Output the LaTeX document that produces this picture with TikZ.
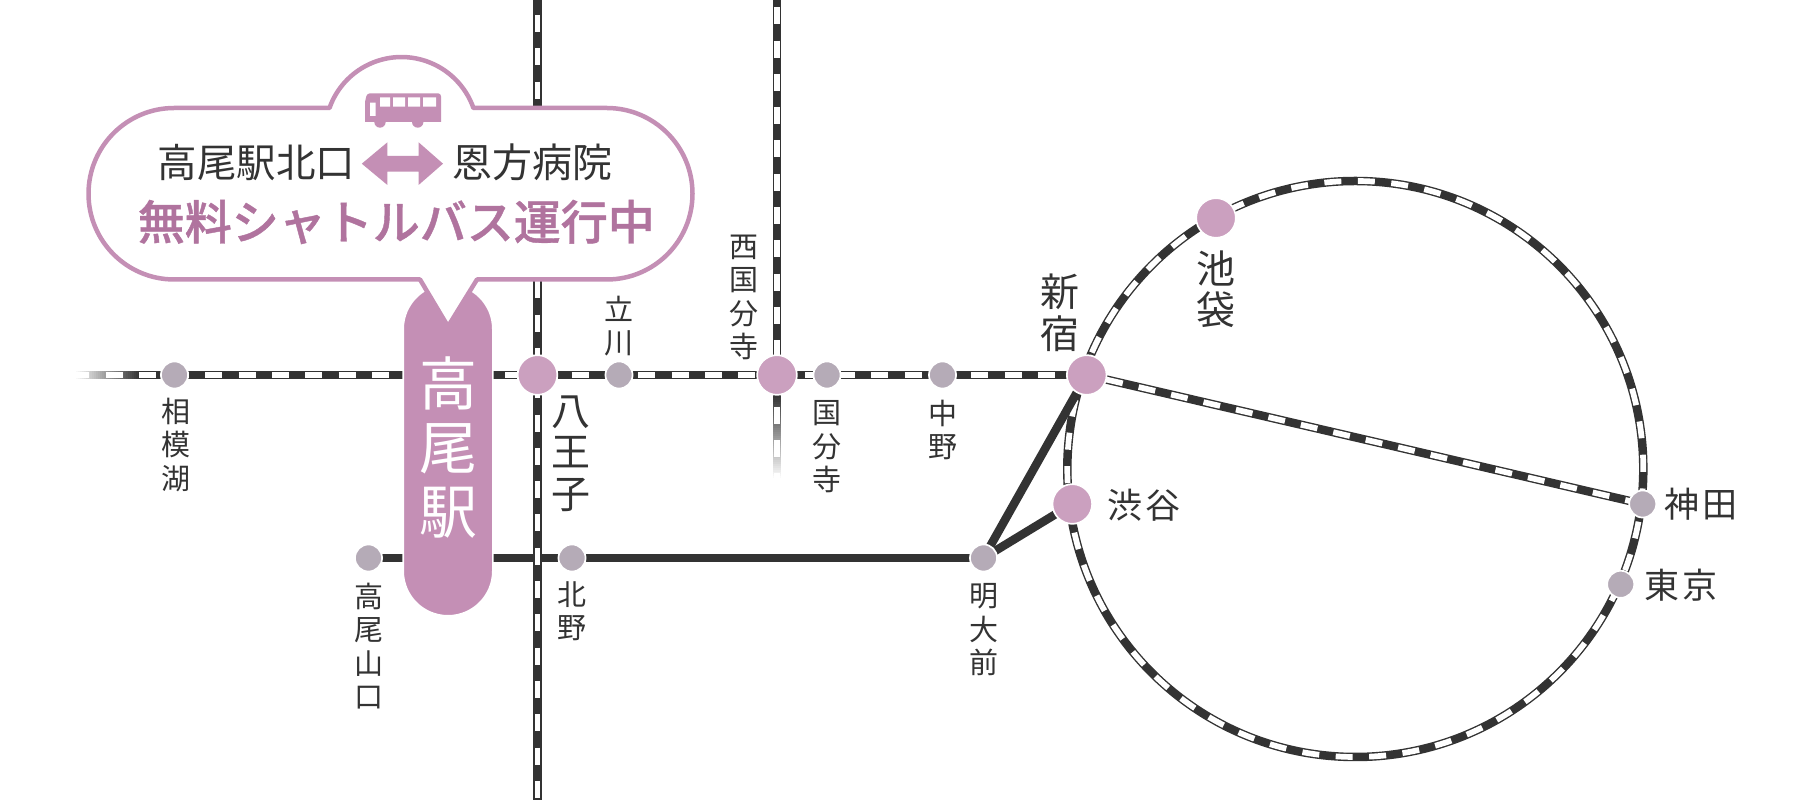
\documentclass[tikz,border=0pt]{standalone}
\usepackage{fontspec}
\usetikzlibrary{backgrounds}
\setmainfont{Noto Sans CJK JP}
\newfontfamily\medfont[FakeBold=0.9]{Noto Sans CJK JP Medium}
\definecolor{ink}{HTML}{333333}
\definecolor{pill}{HTML}{C48FB5}
\definecolor{mauve}{HTML}{B0739E}
\definecolor{stpink}{HTML}{CBA0BF}
\definecolor{stgrey}{HTML}{B5ABB7}
\tikzset{
  small/.style={font=\fontsize{29}{33.5}\selectfont, text=ink, align=center, inner sep=0pt},
  large/.style={font=\fontsize{39}{41.5}\selectfont, text=ink, align=center, inner sep=0pt},
  side/.style={font=\fontsize{35}{36}\selectfont, text=ink, inner sep=0pt},
  minor/.style={circle, fill=stgrey, draw=white, line width=1.7pt, inner sep=0pt, minimum size=27.1pt},
  major/.style={circle, fill=stpink, draw=white, line width=1.7pt, inner sep=0pt, minimum size=39.7pt},
  railbase/.style={draw=ink, line width=8.5pt},
  railgap/.style={draw=white, line width=5.7pt, dash pattern=on 17pt off 16.3pt},
  plainline/.style={draw=ink, line width=8.5pt}
}
\newcommand{\rail}[2][]{
  \draw[railbase] #2;
  \draw[railgap, #1] #2;
}
\begin{document}
\begin{tikzpicture}[x=1pt, y=1pt]
\useasboundingbox (0,0) rectangle (1800,800);

\coordinate (startM) at (74,425);
\coordinate (topA) at (537.5,800);
\coordinate (botA) at (537.5,0);
\coordinate (topB) at (777,800);
\coordinate (endB) at (777,320);
\coordinate (ringc) at (1355.3,331);

\node[minor] (sagamiko) at (174.5,425) {};
\node[major] (hachioji) at (537.5,425) {};
\node[minor] (tachikawa) at (619,425) {};
\node[major] (nishikoku) at (777,425) {};
\node[minor] (kokubunji) at (827,425) {};
\node[minor] (nakano) at (942.5,425) {};
\node[major] (shinjuku) at (1086.7,425) {};
\node[major] (ikebukuro) at (1216,582) {};
\node[major] (shibuya) at (1072.3,296) {};
\node[minor] (kanda) at (1642.7,296) {};
\node[minor] (tokyo) at (1620.7,215.7) {};
\node[minor] (meidaimae) at (983.5,242) {};
\node[minor] (kitano) at (572,242) {};
\node[minor] (takaosan) at (368.5,242) {};

\begin{scope}[on background layer]
  \rail[dash phase=1.8pt]{(startM) -- (shinjuku.center)}
  \rail[dash phase=26pt]{(topB) -- (endB)}
  \rail[dash phase=13.3pt]{(shinjuku.center) -- (kanda.center)}
  \rail[dash pattern=on 17pt off 16.51pt, dash phase=2.7pt]{(ringc) ++(288,0) arc[start angle=0, end angle=360, radius=288]}
  \draw[plainline] (takaosan.center) -- (meidaimae.center);
  \draw[plainline] (meidaimae.center) -- (shinjuku.center);
  \draw[plainline] (meidaimae.center) -- (shibuya.center);
  \rail[dash phase=18.3pt]{(topA) -- (botA)}
  \foreach \i [evaluate=\i as \op using 1-\i/32] in {0,...,31}
    \fill[white, opacity=\op] (74+2*\i,419) rectangle +(2,12);
  \foreach \i [evaluate=\i as \op using 1-\i/42] in {0,...,41}
    \fill[white, opacity=\op] (771,320+2*\i) rectangle +(12,2);
\end{scope}

\node[minimum width=89.7pt, minimum height=331.7pt, rounded corners=44.8pt, fill=pill, draw=white, line width=1.7pt, inner sep=0pt] (takao) at (448,350) {};
\node[font=\fontsize{58}{64}\selectfont, text=white, align=center, inner sep=0pt] (takaolabel) at (takao.center |- 0,352) {高\\尾\\駅};

\draw[pill, fill=white, line width=4.5pt, line join=round] (174.25,692) -- (329.5,692)
  arc[start angle=160.6, end angle=19.4, radius=76.3] -- (606.75,692)
  arc[start angle=90, end angle=-90, radius=85.75] -- (477,520.5)
  [rounded corners=3pt] -- (448,473.5) [sharp corners] -- (420,520.5) -- (174.25,520.5)
  arc[start angle=270, end angle=90, radius=85.75] -- cycle;

\fill[pill] (365,678) -- (365,698) [rounded corners=3pt] -- (367,706.7) -- (441,706.7) [sharp corners] -- (441,678) -- cycle;
\fill[pill] (380,678) circle[radius=5.7] (417.7,678) circle[radius=5.7];
\fill[white] (380,693.3) rectangle (390,702.7) (393,693.3) rectangle (405,702.7) (408,693.3) rectangle (420,702.7) (423,693.3) rectangle (436,702.7) (370,684) rectangle (375.5,697.4);

\fill[pill] (361.8,636.3) -- (387.4,657.7) -- (387.4,644) -- (418.6,644) -- (418.6,657.7) -- (443,636.3) -- (418.6,615) -- (418.6,628.3) -- (387.4,628.3) -- (387.4,615) -- cycle;

\node[font=\fontsize{39.5}{41}\selectfont, text=ink, inner sep=0pt] (fromlabel) at (256.5,637.5) {高尾駅北口};
\node[font=\fontsize{40}{41}\selectfont, text=ink, inner sep=0pt] (tolabel) at (532.8,637.5) {恩方病院};
\node[font=\fontsize{47}{50}\selectfont\medfont, text=mauve, inner sep=0pt] (buslabel) at (396.3,578) {無料シャトルバス運行中};

\node[small] (l1) at (175.6,355) {相\\模\\湖};
\node[large] (l2) at (571,346.3) {八\\王\\子};
\node[small] (l3) at (619,474) {立\\川};
\node[small] (l4) at (744,502.5) {西\\国\\分\\寺};
\node[small] (l5) at (827,353) {国\\分\\寺};
\node[small] (l6) at (942.5,370) {中\\野};
\node[large] (l7) at (1060,487) {新\\宿};
\node[large] (l8) at (1216,511) {池\\袋};
\node[side] (l9) at (1143.8,295) {渋\kern3pt 谷};
\node[side] (l10) at (1701,296) {神\kern2.5pt 田};
\node[side] (l11) at (1681,215) {東\kern2.5pt 京};
\node[small] (l12) at (572,189) {北\\野};
\node[small] (l13) at (984,170) {明\\大\\前};
\node[small] (l14) at (368.5,154) {高\\尾\\山\\口};
\end{tikzpicture}
\end{document}
